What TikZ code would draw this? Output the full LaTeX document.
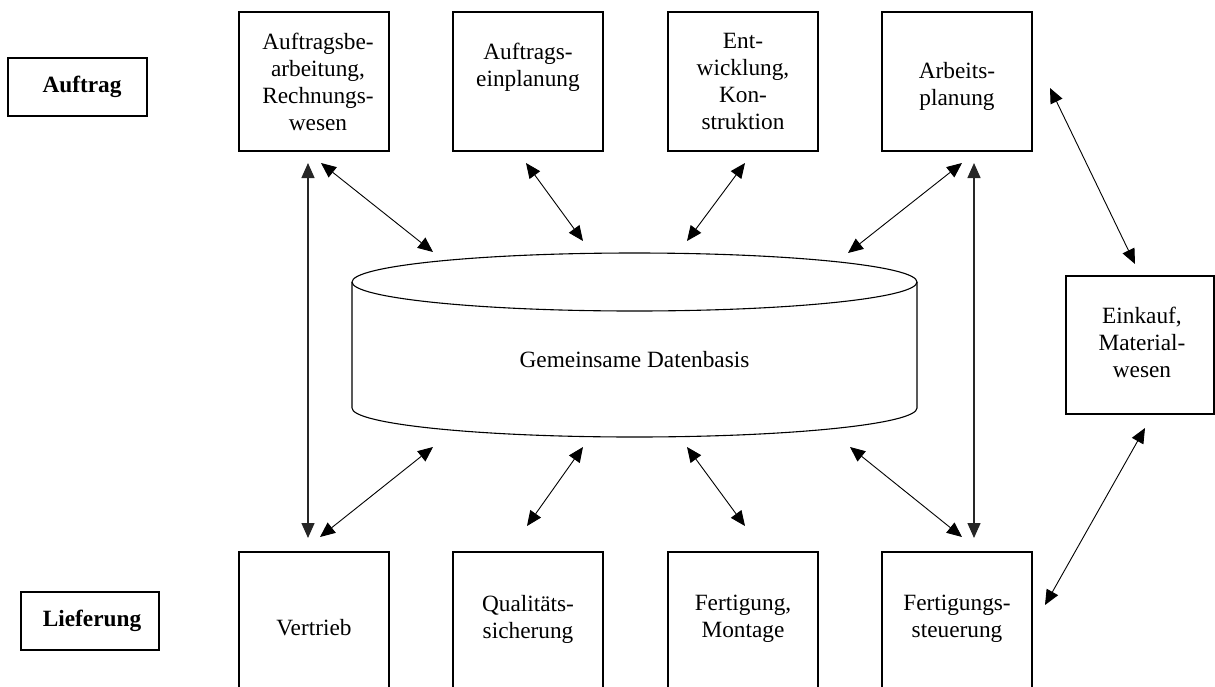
\documentclass[tikz,border=0pt]{standalone}
\usepackage{fontspec}
\setmainfont{Liberation Serif}
\usetikzlibrary{arrows.meta,calc}
\begin{document}
\begin{tikzpicture}[x=1pt,y=-1pt,
  every node/.style={font=\fontsize{23.3}{27}\selectfont, inner sep=0pt, outer sep=0pt},
  unit/.style={draw, line width=1.1pt, minimum width=150pt, minimum height=139pt},
  tag/.style={draw, line width=1.1pt, minimum height=58pt},
  unittext/.style={anchor=north, align=center},
  link/.style={line width=0.9pt, {Triangle[length=15pt,width=13pt]}-{Triangle[length=15pt,width=13pt]}},
  spine/.style={link, line width=1.4pt, draw=black!85},
  drum/.style={line width=1.1pt}
]
\useasboundingbox (0,0) rectangle (1215,686);
\clip (0,0) rectangle (1215,686);

% row labels
\node[tag, minimum width=139pt] (auf) at (77.5,87) {};
\node (auf-t) at (82,87) {\bfseries Auftrag};
\node[tag, minimum width=138pt] (lief) at (90,621) {};
\node (lief-t) at (92,621) {\bfseries Lieferung};

% upper row of departments
\node[unit] (ab) at (314,81.5) {};
\node[unit] (ae) at (528,81.5) {};
\node[unit] (ek) at (743,81.5) {};
\node[unit] (ap) at (957,81.5) {};
\node[unittext] (ab-t) at ($(ab.north)+(4,21)$) {Auftragsbe-\\arbeitung,\\Rechnungs-\\wesen};
\node[unittext] (ae-t) at ($(ae.north)+(0,31)$) {Auftrags-\\einplanung};
\node[unittext] (ek-t) at ($(ek.north)+(0,21)$) {Ent-\\wicklung,\\Kon-\\struktion};
\node[unittext] (ap-t) at ($(ap.north)+(0,50)$) {Arbeits-\\planung};

% purchasing on the right
\node[unit, minimum width=148pt, minimum height=138pt] (ei) at (1140,345) {};
\node[unittext] (ei-t) at ($(ei.north)+(2,31)$) {Einkauf,\\Material-\\wesen};

% lower row of departments
\node[unit] (vt) at (314,621.5) {};
\node[unit] (qs) at (528,621.5) {};
\node[unit] (fm) at (743,621.5) {};
\node[unit] (fs) at (957,621.5) {};
\node[unittext] (vt-t) at ($(vt.north)+(0,67)$) {Vertrieb};
\node[unittext] (qs-t) at ($(qs.north)+(0,43)$) {Qualitäts-\\sicherung};
\node[unittext] (fm-t) at ($(fm.north)+(0,43)$) {Fertigung,\\Montage};
\node[unittext] (fs-t) at ($(fs.north)+(0,43)$) {Fertigungs-\\steuerung};

% shared database drawn as a cylinder
\node[minimum width=565pt, minimum height=184pt] (db) at (634.5,345) {};
\node (db-t) at (634.5,360) {Gemeinsame Datenbasis};
\draw[drum] ($(db.north)+(0,29)$) ellipse [x radius=282.5pt, y radius=29pt];
\draw[drum] ($(db.north west)+(0,29)$) -- ($(db.south west)+(0,-29)$)
  arc[start angle=180, end angle=360, x radius=282.5pt, y radius=29pt]
  -- ($(db.north east)+(0,29)$);

% links between departments and the database
\draw[spine] ($(ab.south)+(-6,12)$) -- ($(vt.north)+(-6,-14)$);
\draw[spine] ($(ap.south)+(17,12)$) -- ($(fs.north)+(17,-14)$);
\draw[link] ($(ab.south)+(7,12)$) -- ($(db.north)+(-201.5,-1)$);
\draw[link] ($(ae.south)+(-2,12)$) -- ($(db.north)+(-51.5,-12)$);
\draw[link] ($(ek.south)+(2,12)$) -- ($(db.north)+(52.5,-12)$);
\draw[link] ($(ap.south)+(5,12)$) -- ($(db.north)+(213.5,0)$);
\draw[link] ($(ap.east)+(18,6.5)$) -- ($(ei.north)+(-5,-12)$);
\draw[link] ($(vt.north)+(6,-15)$) -- ($(db.south)+(-201.5,10)$);
\draw[link] ($(qs.north)+(-1,-26)$) -- ($(db.south)+(-51.5,10)$);
\draw[link] ($(fm.north)+(2,-26)$) -- ($(db.south)+(52.5,10)$);
\draw[link] ($(fs.north)+(5,-15)$) -- ($(db.south)+(215.5,10)$);
\draw[link] ($(fs.east)+(13,-16.5)$) -- ($(ei.south)+(5,14)$);
\end{tikzpicture}
\end{document}
